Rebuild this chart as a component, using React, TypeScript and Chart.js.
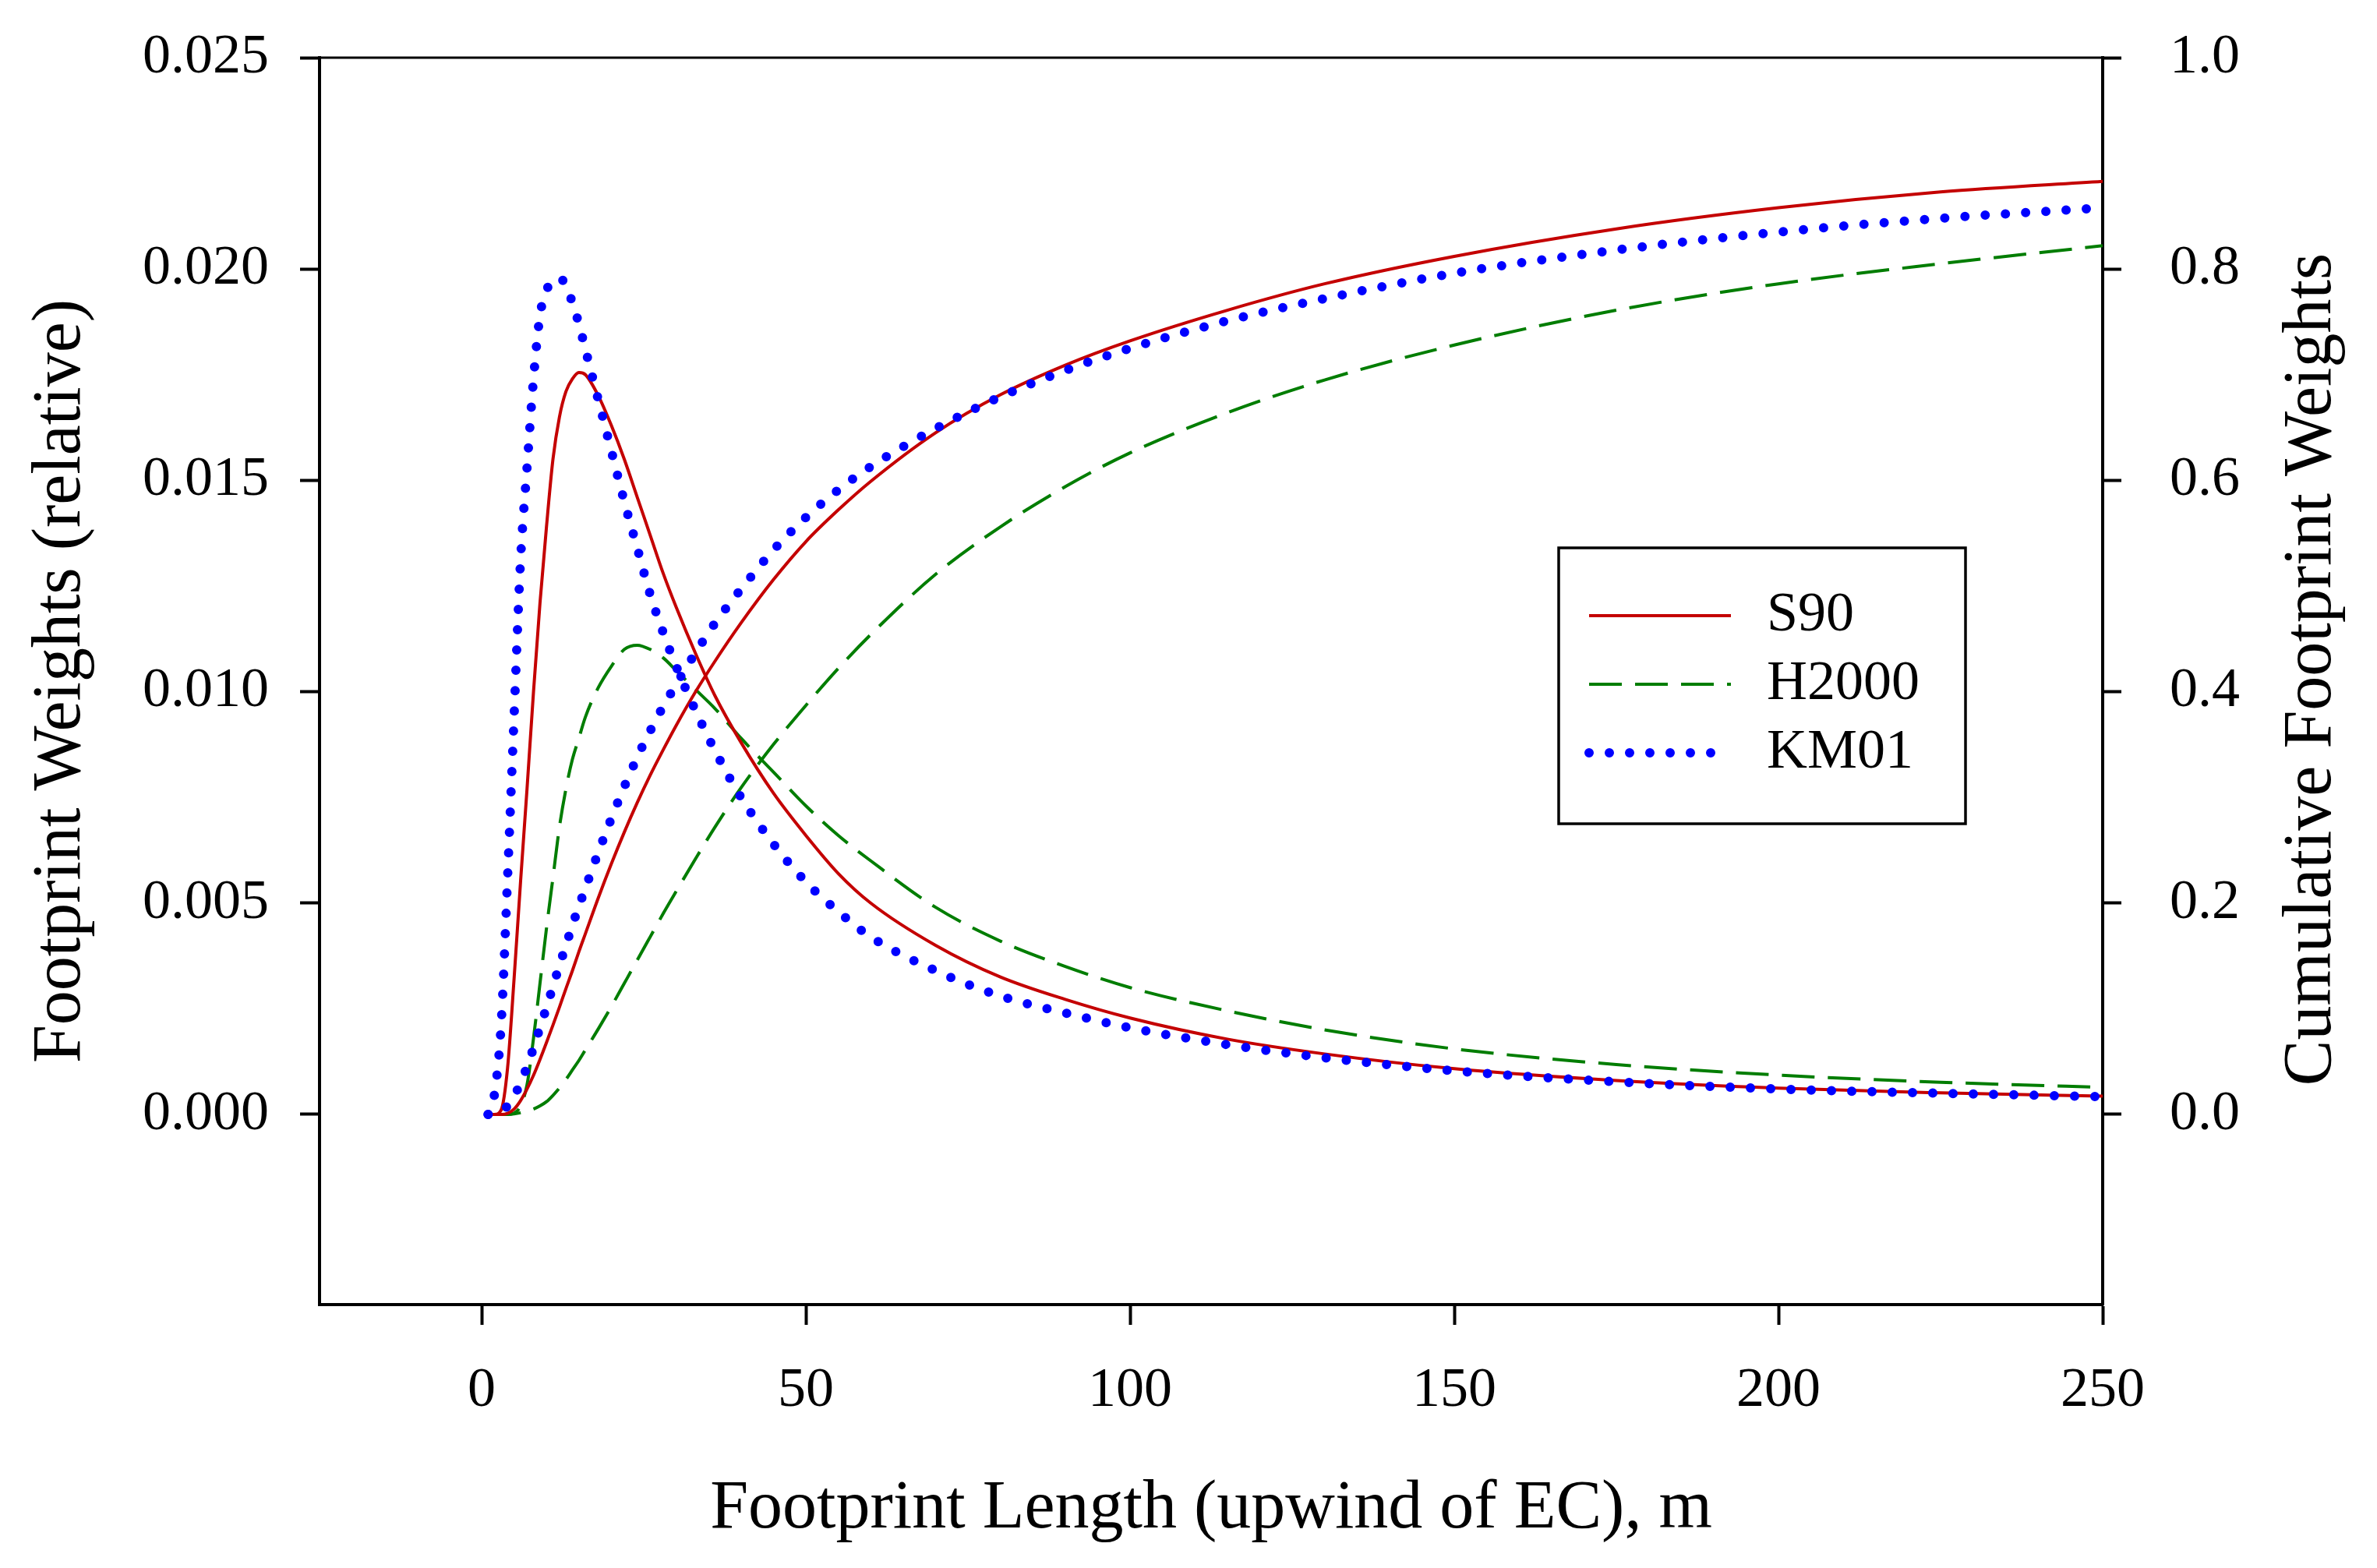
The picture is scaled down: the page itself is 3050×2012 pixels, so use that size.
import { useEffect, useRef } from "react";
import { Chart, Plugin, registerables } from "chart.js";

Chart.register(...registerables);

// footprint length upwind of the EC tower (m)
const distance = [
  1, 2, 3, 4, 5, 6, 7, 8, 9, 10, 11, 12, 13, 14, 15, 16, 18, 20, 22, 24, 26, 28, 30, 33, 36, 40, 45, 50, 55,
  60, 70, 80, 90, 100, 115, 130, 150, 175, 200, 225, 250,
];

// relative footprint weights (left axis)
const s90Weight = [
  0, 0, 0.0001, 0.0011, 0.0032, 0.0055, 0.0077, 0.01, 0.0121, 0.0139, 0.0155, 0.0165, 0.0171, 0.0174, 0.01755,
  0.0175, 0.017, 0.0163, 0.0155, 0.0146, 0.0137, 0.0128, 0.012, 0.0109, 0.0099, 0.0088, 0.0076, 0.0066, 0.0057,
  0.005, 0.004, 0.00325, 0.00272, 0.00228, 0.00178, 0.00143, 0.00108, 0.0008, 0.00062, 0.00051, 0.00043,
];
const h2000Weight = [
  0, 0, 0, 0, 0.00003, 0.0002, 0.0007, 0.0018, 0.0031, 0.0044, 0.0056, 0.0068, 0.0077, 0.0084, 0.0089, 0.0094,
  0.0101, 0.0106, 0.011, 0.0111, 0.011, 0.0108, 0.0105, 0.01005, 0.0096, 0.0089, 0.0081, 0.0073, 0.0066, 0.006,
  0.0049, 0.0041, 0.0035, 0.003, 0.00245, 0.002, 0.00155, 0.00118, 0.00093, 0.00076, 0.00064,
];
const km01Weight = [
  0, 0.0005, 0.0021, 0.0056, 0.0094, 0.0131, 0.0153, 0.0174, 0.0189, 0.0195, 0.0197, 0.0198, 0.0196, 0.0192,
  0.0187, 0.0181, 0.0169, 0.0157, 0.0145, 0.0134, 0.0123, 0.0114, 0.0106, 0.00955, 0.0086, 0.0075, 0.0064, 0.0055,
  0.0048, 0.0042, 0.0034, 0.0028, 0.0024, 0.00205, 0.00165, 0.00134, 0.00103, 0.00077, 0.0006, 0.0005, 0.00042,
];

// cumulative footprint weights (right axis)
const s90Cum = [
  0, 0, 0, 0.001, 0.005, 0.013, 0.024, 0.037, 0.052, 0.068, 0.0845, 0.1015, 0.119, 0.136, 0.154, 0.171, 0.205,
  0.237, 0.267, 0.295, 0.321, 0.345, 0.368, 0.4, 0.429, 0.465, 0.506, 0.542, 0.572, 0.599, 0.645, 0.681, 0.709,
  0.732, 0.761, 0.786, 0.812, 0.838, 0.858, 0.873, 0.883,
];
const h2000Cum = [
  0, 0, 0, 0, 0.0005, 0.0015, 0.003, 0.005, 0.008, 0.012, 0.018, 0.025, 0.033, 0.042, 0.051, 0.061, 0.081, 0.102,
  0.124, 0.146, 0.168, 0.19, 0.211, 0.242, 0.272, 0.309, 0.35, 0.387, 0.422, 0.454, 0.511, 0.556, 0.594, 0.626,
  0.664, 0.695, 0.728, 0.761, 0.786, 0.805, 0.822,
];
const km01Cum = [
  0, 0.001, 0.003, 0.008, 0.017, 0.03, 0.045, 0.063, 0.082, 0.101, 0.121, 0.141, 0.16, 0.179, 0.197, 0.214,
  0.248, 0.28, 0.31, 0.338, 0.363, 0.386, 0.407, 0.437, 0.465, 0.497, 0.534, 0.565, 0.591, 0.613, 0.649, 0.679,
  0.704, 0.725, 0.751, 0.772, 0.796, 0.818, 0.835, 0.848, 0.858,
];

const xTickValues = [0, 50, 100, 150, 200, 250];
const leftTickValues = [0, 0.005, 0.01, 0.015, 0.02, 0.025];
const rightTickValues = [0, 0.2, 0.4, 0.6, 0.8, 1.0];

const serif = "'Liberation Serif', 'Times New Roman', serif";

const styles = {
  S90: { borderColor: "#c40000", borderWidth: 4, borderDash: [] as number[], borderCapStyle: "butt" as const, order: 1 },
  H2000: { borderColor: "#007d00", borderWidth: 4, borderDash: [42, 17], borderCapStyle: "butt" as const, order: 2 },
  KM01: { borderColor: "#0000ff", borderWidth: 12, borderDash: [0, 26], borderCapStyle: "round" as const, order: 0 },
};

const toPoints = (ys: number[]) => distance.map((x, i) => ({ x, y: ys[i] }));

const framePlugin: Plugin<"line"> = {
  id: "frame",
  afterDraw(chart) {
    const { ctx, chartArea: a } = chart;
    ctx.save();
    // top border of the plot box
    ctx.strokeStyle = "#000";
    ctx.lineWidth = 3;
    ctx.beginPath();
    ctx.moveTo(a.left, a.top);
    ctx.lineTo(a.right, a.top);
    ctx.stroke();

    // legend box
    const bx = a.right - 698;
    const by = a.top + 629;
    ctx.lineWidth = 3.5;
    ctx.strokeRect(bx, by, 522, 354);
    ctx.font = `72px ${serif}`;
    ctx.textBaseline = "middle";
    ctx.textAlign = "left";
    ctx.fillStyle = "#000";
    ["S90", "H2000", "KM01"].forEach((name, i) => {
      const ds: any = chart.data.datasets.find((d) => d.label === name);
      const y = by + 87 + i * 88;
      ctx.save();
      ctx.strokeStyle = ds.borderColor;
      ctx.lineWidth = ds.borderWidth;
      ctx.setLineDash(ds.borderDash);
      ctx.lineCap = ds.borderCapStyle;
      ctx.beginPath();
      ctx.moveTo(bx + 39, y);
      ctx.lineTo(bx + 221, y);
      ctx.stroke();
      ctx.restore();
      ctx.fillText(name, bx + 267, y);
    });

    // right axis title, reading bottom to top
    ctx.translate(a.right + 292, (a.top + a.bottom) / 2 - 15);
    ctx.rotate(-Math.PI / 2);
    ctx.font = `88px ${serif}`;
    ctx.textAlign = "center";
    ctx.textBaseline = "alphabetic";
    ctx.fillText("Cumulative Footprint Weights", 0, 0);
    ctx.restore();
  },
};

function App() {
  const canvasRef = useRef<HTMLCanvasElement>(null);

  useEffect(() => {
    document.body.style.margin = "0";
    document.body.style.overflow = "hidden";
    const canvas = canvasRef.current;
    if (!canvas) return;

    Chart.defaults.font.family = serif;
    Chart.defaults.color = "#000";

    const axisGrid = (tickLength: number) => ({
      display: true,
      drawOnChartArea: false,
      drawTicks: true,
      tickLength,
      tickWidth: 4,
      tickColor: "#000",
      color: "#000",
    });
    const axisBorder = { display: true, color: "#000", width: 4 };

    const chart = new Chart(canvas, {
      type: "line",
      data: {
        datasets: [
          { label: "S90", data: toPoints(s90Weight), yAxisID: "y", ...styles.S90 },
          { label: "H2000", data: toPoints(h2000Weight), yAxisID: "y", ...styles.H2000 },
          { label: "KM01", data: toPoints(km01Weight), yAxisID: "y", ...styles.KM01 },
          { label: "S90 cumulative", data: toPoints(s90Cum), yAxisID: "y2", ...styles.S90 },
          { label: "H2000 cumulative", data: toPoints(h2000Cum), yAxisID: "y2", ...styles.H2000 },
          { label: "KM01 cumulative", data: toPoints(km01Cum), yAxisID: "y2", ...styles.KM01 },
        ],
      },
      options: {
        responsive: false,
        animation: false,
        events: [],
        layout: { padding: { top: 74, left: 0, right: 0, bottom: 0 } },
        elements: {
          point: { radius: 0 },
          line: { cubicInterpolationMode: "monotone", fill: false },
        },
        plugins: {
          legend: { display: false },
          tooltip: { enabled: false },
        },
        scales: {
          x: {
            type: "linear",
            position: "bottom",
            min: -25,
            max: 250,
            afterBuildTicks: (scale) => {
              scale.ticks = xTickValues.map((value) => ({ value }));
            },
            afterFit: (scale) => {
              scale.height = 338;
            },
            grid: axisGrid(26),
            border: axisBorder,
            ticks: {
              font: { size: 72 },
              padding: 42,
              maxRotation: 0,
              callback: (v) => String(v),
            },
            title: {
              display: true,
              text: "Footprint Length (upwind of EC), m",
              font: { size: 88 },
              padding: { top: 0, bottom: 22 },
            },
          },
          y: {
            type: "linear",
            position: "left",
            min: -0.0045,
            max: 0.025,
            afterBuildTicks: (scale) => {
              scale.ticks = leftTickValues.map((value) => ({ value }));
            },
            afterFit: (scale: any) => {
              scale.width = 410;
              scale.paddingTop = 0;
              scale.paddingBottom = 0;
            },
            grid: axisGrid(25),
            border: axisBorder,
            ticks: {
              font: { size: 72 },
              padding: 40,
              callback: (v) => Number(v).toFixed(3),
            },
            title: {
              display: true,
              text: "Footprint Weights (relative)",
              font: { size: 88 },
              padding: { top: 26, bottom: 0 },
            },
          },
          y2: {
            type: "linear",
            position: "right",
            min: -0.18,
            max: 1.0,
            afterBuildTicks: (scale) => {
              scale.ticks = rightTickValues.map((value) => ({ value }));
            },
            afterFit: (scale: any) => {
              scale.width = 352;
              scale.paddingTop = 0;
              scale.paddingBottom = 0;
            },
            grid: axisGrid(24),
            border: axisBorder,
            ticks: {
              font: { size: 72 },
              padding: 62,
              callback: (v) => Number(v).toFixed(1),
            },
            title: { display: false },
          },
        },
      },
      plugins: [framePlugin],
    });

    return () => {
      chart.destroy();
    };
  }, []);

  return (
    <canvas
      ref={canvasRef}
      width={3050}
      height={2012}
      style={{ display: "block", width: "3050px", height: "2012px" }}
    />
  );
}

export default App;
